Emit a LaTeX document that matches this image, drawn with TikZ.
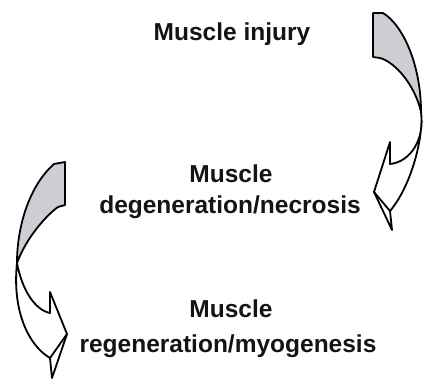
\documentclass[tikz,border=0pt]{standalone}
\usepackage{fontspec}
\setmainfont{Liberation Sans}
\begin{document}
\begin{tikzpicture}[x=1pt,y=-1pt,
  lbl/.style={anchor=base,inner sep=0pt,font=\fontsize{24.5}{29}\selectfont\bfseries,text={rgb,255:red,20;green,20;blue,20}},
  ribbon/.style={draw=black,line width=1.8pt,line join=round},
  backside/.style={ribbon,fill={rgb,255:red,204;green,206;blue,212}},
  frontside/.style={ribbon,fill=white}]
\useasboundingbox (0,0) rectangle (425,383);
\fill[white] (0,0) rectangle (425,383);
% text
\node[lbl] (t1) at (232,40) {Muscle injury};
\node[lbl] (t2a) at (231,182) {Muscle};
\node[lbl] (t2b) at (230,213) {degeneration/necrosis};
\node[lbl] (t3a) at (231,317) {Muscle};
\node[lbl] (t3b) at (228,352) {regeneration/myogenesis};
% right curved arrow
\coordinate (rT) at (421,112);
\draw[backside] (373,13) -- (383,13) .. controls (403,25) and (421,65) .. (rT)
  .. controls (415,85) and (395,62) .. (380,58) -- (373,57) -- cycle;
\draw[frontside] (rT) .. controls (425,140) and (410,162) .. (390,164)
  -- (390,142) -- (374,192) -- (392,230) -- (390,211)
  .. controls (412,185) and (424,135) .. (rT) -- cycle;
\draw[ribbon] (374,192) -- (390,211);
% left curved arrow
\coordinate (lT) at (17,263);
\draw[backside] (65,162) -- (54,164) .. controls (30,185) and (17,225) .. (lT)
  .. controls (27,236) and (48,214) .. (58,207) -- (65,205) -- cycle;
\draw[frontside] (lT) .. controls (22,290) and (35,310) .. (50,313)
  -- (50,292) -- (67,334) -- (52,378) -- (50,358)
  .. controls (28,345) and (12,310) .. (lT) -- cycle;
\draw[ribbon] (67,334) -- (50,358);
\end{tikzpicture}
\end{document}
